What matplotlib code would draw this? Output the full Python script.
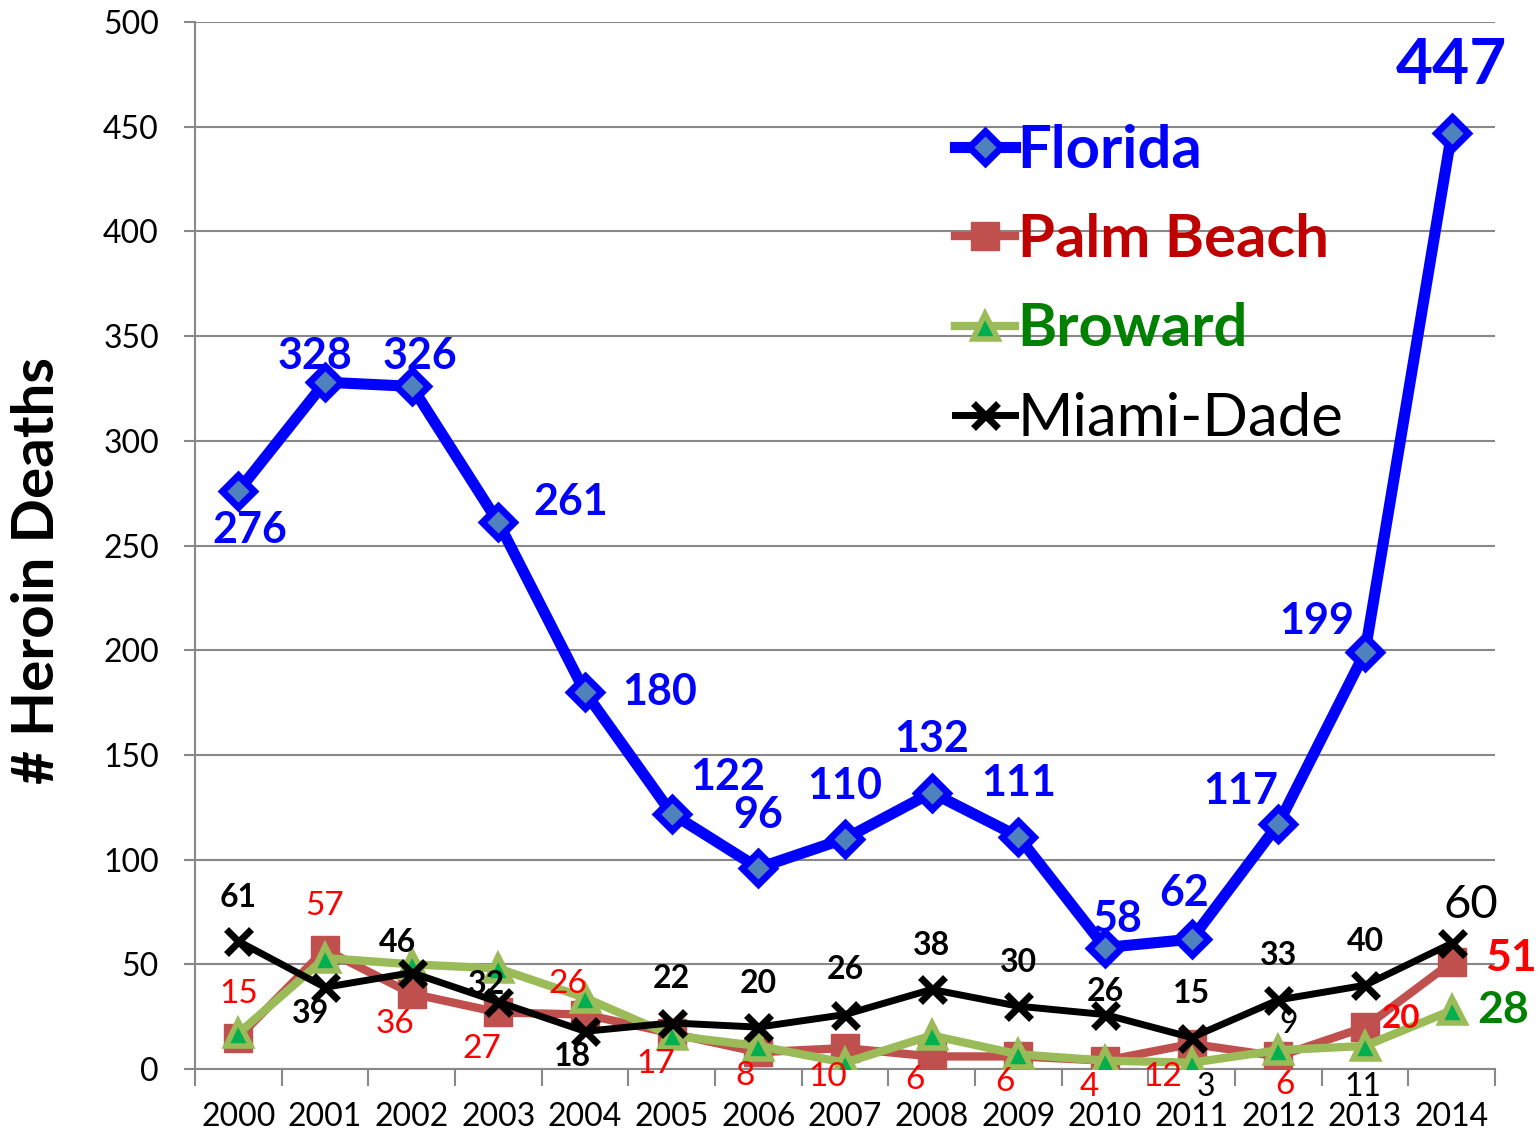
import matplotlib
matplotlib.use("Agg")
import matplotlib.pyplot as plt
import numpy as np

years = ["2000", "2001", "2002", "2003", "2004", "2005", "2006", "2007",
         "2008", "2009", "2010", "2011", "2012", "2013", "2014"]
florida = [276, 328, 326, 261, 180, 122, 96, 110, 132, 111, 58, 62, 117, 199, 447]
palm_beach = [15, 57, 36, 27, 26, 17, 8, 10, 6, 6, 4, 12, 6, 20, 51]
broward = [17, 53, 50, 48, 34, 16, 11, 3, 16, 7, 4, 3, 9, 11, 28]
miami_dade = [61, 39, 46, 32, 18, 22, 20, 26, 38, 30, 26, 15, 33, 40, 60]
yticks = [0, 50, 100, 150, 200, 250, 300, 350, 400, 450, 500]

FONT = ["Lato", "DejaVu Sans"]
plt.rcParams['font.family'] = FONT

fig = plt.figure(figsize=(15.38, 11.33), dpi=100)
ax = fig.add_axes([195/1538, 64/1133, 1300/1538, 1047/1133])

x = np.arange(len(years))

BLUE = "#0000FF"
PB = "#C0504D"
BR = "#9BBB59"

ax.plot(x, florida, color=BLUE, lw=8, marker="D", ms=16, mfc="#4F81BD",
        mec=BLUE, mew=5, solid_joinstyle="round", label="Florida", zorder=6)
ax.plot(x, palm_beach, color=PB, lw=6, marker="s", ms=20, mfc=PB, mec=PB,
        label="Palm Beach", zorder=3)
ax.plot(x, broward, color=BR, lw=6, marker="^", ms=18, mfc="#00B050", mec=BR,
        mew=4, label="Broward", zorder=4)
ax.plot(x, miami_dade, color="black", lw=5, marker="x", ms=18, mew=5,
        label="Miami-Dade", zorder=5)

ax.set_xlim(-0.5, len(years) - 0.5)
ax.set_ylim(0, 500)
ax.set_yticks(yticks)
ax.set_xticks(x)
ax.set_xticklabels(years)
ax.set_xticks(np.arange(-0.5, len(years), 1), minor=True)
ax.tick_params(axis="x", which="major", length=0, labelsize=23, pad=24)
ax.tick_params(axis="x", which="minor", length=12, width=1.5, color="#888888", direction="out")
ax.tick_params(axis="y", length=8, width=1.5, color="#888888", labelsize=23, pad=18)
for s in ["top", "right"]:
    ax.spines[s].set_visible(False)
for s in ["left", "bottom"]:
    ax.spines[s].set_color("#888888")
    ax.spines[s].set_linewidth(1.5)
ax.yaxis.grid(True, color="#888888", lw=1.5)
ax.set_axisbelow(True)

fig.text(38/1538, 1 - 570/1133, "# Heroin Deaths", rotation=90, fontsize=42,
         fontweight="bold", ha="center", va="center")

def lab(vals, i, dx, dy, color, size, weight):
    ax.annotate(str(vals[i]), (x[i], vals[i]), xytext=(dx * 0.72, -dy * 0.72),
                textcoords="offset points", ha="center", va="center",
                color=color, fontsize=size, fontweight=weight, zorder=10)

# Florida label offsets (pixels, dx, dy-down)
fl_off = [(11, 39), (-10, -26), (8, -30), (72, -20), (75, 0), (56, -37), (0, -53),
          (0, -53), (0, -54), (0, -54), (12, -29), (-8, -46), (-38, -33), (-48, -31)]
for i, (dx, dy) in enumerate(fl_off):
    lab(florida, i, dx, dy, BLUE, 31, "bold")
lab(florida, 14, 0, -67, BLUE, 46, "bold")

pb_off = [(0, -44), (0, -44), (-17, 30), (-17, 37), (-17, -31), (-16, 31), (-13, 24),
          (-17, 29), (-17, 24), (-13, 26), (-16, 26), (-29, 33), (7, 29)]
for i, (dx, dy) in enumerate(pb_off):
    lab(palm_beach, i, dx, dy, "#FF0000", 24, "normal")
lab(palm_beach, 13, 36, -9, "#FF0000", 24, "bold")
lab(palm_beach, 14, 59, -4, "#FF0000", 32, "bold")

md_off = [(0, -44), (-14, 26), (-14, -30), (-12, -17), (-13, 25), (0, -44), (0, -44),
          (0, -45), (0, -44), (0, -44), (0, -23), (0, -44), (0, -44), (0, -44)]
for i, (dx, dy) in enumerate(md_off):
    lab(miami_dade, i, dx, dy, "black", 23, "bold")
lab(miami_dade, 14, 19, -38, "black", 34, "normal")

lab(broward, 11, 14, 24, "black", 23, "normal")
lab(broward, 12, 10, -26, "black", 23, "normal")
lab(broward, 13, -2, 41, "black", 23, "normal")
lab(broward, 14, 51, 0, "#008000", 32, "bold")

leg = ax.legend(loc="upper left", bbox_to_anchor=((955 - 195) / 1300, (1069 - 124) / 1047),
                frameon=False, fontsize=43, handlelength=1.0, handletextpad=0.05,
                labelspacing=0.59, borderaxespad=0, borderpad=0)
colors = [BLUE, "#C00000", "#008000", "black"]
for t, c in zip(leg.get_texts(), colors):
    t.set_color(c)
    t.set_fontweight("bold")
leg.get_texts()[3].set_fontweight("normal")

fig.savefig("out.png", dpi=100)
